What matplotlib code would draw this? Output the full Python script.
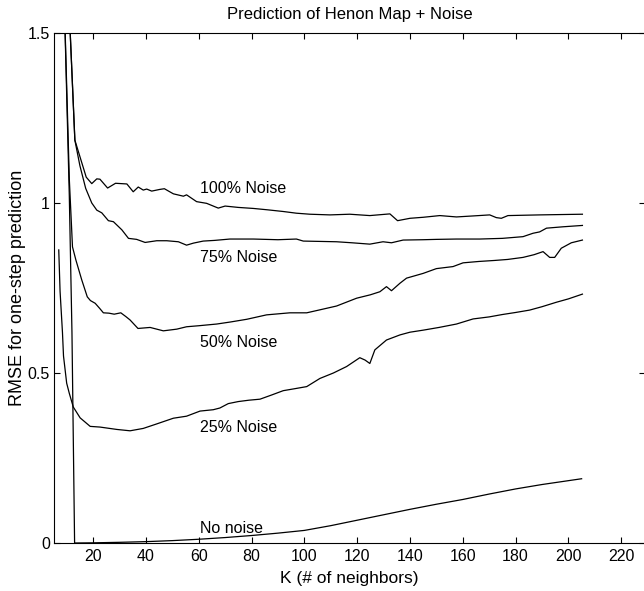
import numpy as np
import matplotlib
matplotlib.use("Agg")
import matplotlib.pyplot as plt

plt.rcParams['font.family'] = ['Liberation Sans', 'DejaVu Sans']

# RMSE curves (K = number of neighbors)
k_none = [9, 11, 12, 13, 20, 30, 40, 50, 60, 70, 80, 90, 100, 110, 120, 130,
          140, 150, 160, 170, 180, 190, 205]
rmse_none = [1.62, 1.02, 0.62, 0.0, 0.0005, 0.002, 0.004, 0.007, 0.011, 0.016,
             0.022, 0.029, 0.037, 0.051, 0.067, 0.083, 0.099, 0.114, 0.128,
             0.144, 0.159, 0.172, 0.189]

k_25 = [7, 7.5, 8.4, 8.8, 10, 11, 12.5, 15.1, 18.9, 22.6, 29, 34, 39, 44,
        50.4, 55.4, 60.5, 65.5, 68, 71.2, 75, 79, 83.2, 87.5, 92, 96.5, 100.9,
        105.9, 111, 116, 121, 123, 124.8, 126.7, 131.1, 136.2, 140, 145, 151,
        157.6, 163.9, 170, 175, 180, 185.3, 190, 195.4, 200, 205.3]
rmse_25 = [0.862, 0.74, 0.62, 0.55, 0.47, 0.44, 0.40, 0.368, 0.343, 0.341,
           0.334, 0.33, 0.337, 0.35, 0.367, 0.373, 0.388, 0.392, 0.397, 0.41,
           0.416, 0.42, 0.423, 0.435, 0.448, 0.454, 0.46, 0.484, 0.50, 0.519,
           0.545, 0.538, 0.528, 0.568, 0.597, 0.612, 0.62, 0.626, 0.634, 0.644,
           0.659, 0.665, 0.672, 0.678, 0.685, 0.695, 0.708, 0.718, 0.732]

k_50 = [9, 11, 12.2, 13.5, 15.7, 17.8, 19, 20.8, 22.5, 23.9, 26, 28, 30.5,
        32.4, 34, 37, 41.6, 46.6, 51.7, 55.4, 60, 66.8, 72, 78.2, 85.7, 94.5,
        100.9, 106, 112.2, 119.8, 125, 128.6, 131.1, 133, 136.2, 138.7, 145,
        150, 156.3, 160.1, 166, 172, 177, 182.8, 187, 190.4, 192.9, 194.8,
        197.3, 201.1, 205.3]
rmse_50 = [1.62, 1.07, 0.871, 0.832, 0.774, 0.724, 0.713, 0.705, 0.69, 0.677,
           0.676, 0.673, 0.677, 0.666, 0.656, 0.631, 0.634, 0.624, 0.629,
           0.636, 0.639, 0.644, 0.65, 0.658, 0.671, 0.677, 0.677, 0.686,
           0.697, 0.72, 0.73, 0.739, 0.754, 0.742, 0.764, 0.779, 0.793, 0.807,
           0.813, 0.824, 0.828, 0.831, 0.834, 0.84, 0.848, 0.857, 0.84, 0.84,
           0.867, 0.883, 0.891]

k_75 = [10, 13.1, 15, 17.2, 19.5, 21.4, 23.3, 25.8, 27.7, 30.9, 33.4, 36.5,
        39.7, 44.1, 47.9, 52.3, 55.4, 58, 61.7, 66, 71.8, 80.7, 90, 97, 99.6,
        106, 112.2, 118, 124.8, 129.8, 133, 137.4, 145, 150, 157.6, 166.4,
        175, 182.8, 186.6, 189.1, 191.7, 197.9, 205.3]
rmse_75 = [1.74, 1.185, 1.11, 1.043, 1.0, 0.979, 0.971, 0.948, 0.945, 0.921,
           0.896, 0.893, 0.884, 0.889, 0.889, 0.886, 0.876, 0.882, 0.888,
           0.89, 0.894, 0.894, 0.892, 0.894, 0.888, 0.887, 0.886, 0.883,
           0.879, 0.886, 0.883, 0.891, 0.892, 0.893, 0.894, 0.894, 0.896,
           0.901, 0.911, 0.915, 0.926, 0.93, 0.934]

k_100 = [10, 13.1, 17.4, 19.5, 21.4, 22.6, 25.5, 28.5, 32.8, 35.2, 37.1, 39,
         40.3, 42.2, 45.3, 47, 50.4, 54.2, 55.4, 59.2, 63, 67.4, 70, 75, 80.7,
         86, 92, 97, 102.1, 109.7, 117.2, 124.8, 132.4, 135.3, 140, 145,
         151.3, 157.6, 164, 170.2, 172.7, 174.6, 177.1, 183, 189.1, 197,
         205.3]
rmse_100 = [1.74, 1.185, 1.076, 1.057, 1.071, 1.07, 1.044, 1.058, 1.056,
            1.033, 1.047, 1.038, 1.041, 1.035, 1.04, 1.042, 1.027, 1.02,
            1.024, 1.004, 0.999, 0.985, 0.991, 0.987, 0.984, 0.98, 0.975,
            0.97, 0.967, 0.965, 0.967, 0.963, 0.968, 0.948, 0.955, 0.958,
            0.963, 0.959, 0.962, 0.965, 0.957, 0.955, 0.963, 0.964, 0.965,
            0.966, 0.967]

labels = ["100% Noise", "75% Noise", "50% Noise", "25% Noise", "No noise"]
label_y = [1.029, 0.826, 0.576, 0.326, 0.029]
label_k = 60.5

fig = plt.figure(figsize=(6.44, 5.91), dpi=100)
ax = fig.add_axes([54/644, 48/591, 591/644, 510/591])

for k, r in [(k_none, rmse_none), (k_25, rmse_25), (k_50, rmse_50),
             (k_75, rmse_75), (k_100, rmse_100)]:
    ax.plot(k, r, color='black', lw=0.9)

for lab, yy in zip(labels, label_y):
    ax.text(label_k, yy, lab, fontsize=11.5, va='baseline', ha='left')

ax.set_xlim(5.2, 229)
ax.set_ylim(0, 1.5)
ax.set_xticks(np.arange(20, 221, 20))
ax.set_yticks([0, 0.5, 1, 1.5])
ax.set_yticklabels(["0", "0.5", "1", "1.5"])
ax.tick_params(direction='in', top=True, right=True, length=4, width=0.8,
               labelsize=11.5)
ax.tick_params(axis='y', pad=3)
ax.tick_params(axis='x', pad=4)
for s in ax.spines.values():
    s.set_linewidth(0.8)

ax.set_title("Prediction of Henon Map + Noise", fontsize=12, pad=10)
ax.set_xlabel("K (# of neighbors)", fontsize=12.5, labelpad=5)
ax.set_ylabel("RMSE for one-step prediction", fontsize=13, labelpad=1)

fig.savefig("out.png", dpi=100)
